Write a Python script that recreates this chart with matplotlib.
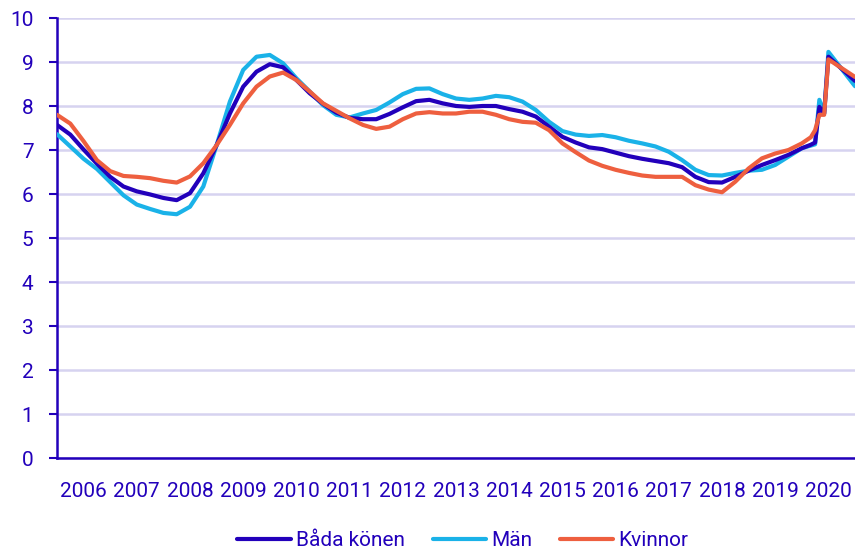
import matplotlib.pyplot as plt

plt.rcParams["font.family"] = ["Roboto", "DejaVu Sans"]

# decimal year positions (quarterly, monthly around the 2020 jump)
years = [2006.0, 2006.25, 2006.5, 2006.75, 2007.0, 2007.25, 2007.5, 2007.75,
         2008.0, 2008.25, 2008.5, 2008.75, 2009.0, 2009.25, 2009.5, 2009.75,
         2010.0, 2010.25, 2010.5, 2010.75, 2011.0, 2011.25, 2011.5, 2011.75,
         2012.0, 2012.25, 2012.5, 2012.75, 2013.0, 2013.25, 2013.5, 2013.75,
         2014.0, 2014.25, 2014.5, 2014.75, 2015.0, 2015.25, 2015.5, 2015.75,
         2016.0, 2016.25, 2016.5, 2016.75, 2017.0, 2017.25, 2017.5, 2017.75,
         2018.0, 2018.25, 2018.5, 2018.75, 2019.0, 2019.25, 2019.5, 2019.75,
         2020.0, 2020.17, 2020.25, 2020.33, 2020.42, 2020.5, 2021.0]

bada = [7.57, 7.35, 7.01, 6.69, 6.39, 6.17, 6.06, 5.99,
        5.91, 5.86, 6.02, 6.47, 7.11, 7.83, 8.44, 8.78,
        8.95, 8.88, 8.59, 8.29, 8.05, 7.85, 7.73, 7.70,
        7.70, 7.82, 7.97, 8.11, 8.14, 8.06, 8.00, 7.98,
        8.00, 8.00, 7.93, 7.87, 7.76, 7.53, 7.30, 7.17,
        7.06, 7.02, 6.94, 6.86, 6.80, 6.75, 6.70, 6.61,
        6.39, 6.27, 6.26, 6.39, 6.53, 6.66, 6.77, 6.89,
        7.04, 7.12, 7.17, 7.98, 7.83, 9.12, 8.57]

man = [7.36, 7.08, 6.80, 6.57, 6.27, 5.97, 5.76, 5.66,
       5.57, 5.54, 5.71, 6.17, 7.11, 8.10, 8.82, 9.12,
       9.16, 8.97, 8.63, 8.33, 8.02, 7.80, 7.74, 7.83,
       7.91, 8.08, 8.27, 8.39, 8.40, 8.27, 8.17, 8.14,
       8.17, 8.23, 8.20, 8.10, 7.91, 7.64, 7.43, 7.35,
       7.32, 7.34, 7.29, 7.21, 7.15, 7.08, 6.96, 6.77,
       6.55, 6.43, 6.42, 6.48, 6.53, 6.55, 6.66, 6.85,
       7.04, 7.10, 7.13, 8.14, 7.83, 9.23, 8.45]

kvinnor = [7.80, 7.60, 7.20, 6.77, 6.52, 6.41, 6.39, 6.36,
           6.30, 6.26, 6.40, 6.70, 7.11, 7.57, 8.06, 8.44,
           8.67, 8.76, 8.59, 8.33, 8.06, 7.89, 7.72, 7.57,
           7.48, 7.53, 7.70, 7.83, 7.86, 7.83, 7.83, 7.87,
           7.87, 7.80, 7.70, 7.64, 7.62, 7.45, 7.15, 6.95,
           6.76, 6.64, 6.55, 6.48, 6.42, 6.39, 6.39, 6.39,
           6.20, 6.10, 6.04, 6.28, 6.58, 6.81, 6.92, 7.00,
           7.15, 7.29, 7.45, 7.80, 7.80, 9.06, 8.66]

year_labels = [str(y) for y in range(2006, 2021)]

dark = "#2200bb"
cyan = "#1ab2e8"
red = "#ee5f3f"

fig = plt.figure(figsize=(8.55, 5.52), dpi=100)
ax = fig.add_axes([57 / 855, 1 - 458 / 552, 1 - 57 / 855, (458 - 18) / 552])

style = dict(lw=3, solid_joinstyle="round", solid_capstyle="round")
ax.plot(years, bada, color=dark, label="Båda könen", zorder=4, **style)
ax.plot(years, man, color=cyan, label="Män", zorder=3, **style)
ax.plot(years, kvinnor, color=red, label="Kvinnor", zorder=5, **style)

ax.set_xlim(2006, 2021)
ax.set_ylim(0, 10)
ax.set_yticks(range(0, 11))
ax.set_xticks([int(y) + 0.5 for y in year_labels])
ax.set_xticklabels(year_labels)

ax.grid(axis="y", color="#d6d3f0", lw=1.8, zorder=0)
ax.set_axisbelow(True)
for s in ["top", "right"]:
    ax.spines[s].set_visible(False)
ax.spines["left"].set_color(dark)
ax.spines["bottom"].set_color(dark)
ax.spines["left"].set_linewidth(1.8)
ax.spines["bottom"].set_linewidth(1.8)
ax.spines["bottom"].set_zorder(6)

ax.tick_params(axis="y", colors=dark, labelsize=15, length=6, width=1.5, pad=11)
ax.tick_params(axis="x", colors=dark, labelsize=15, length=0, pad=17)

fig.legend(loc="center", bbox_to_anchor=(463 / 855, 1 - 541 / 552), ncol=3,
           frameon=False, fontsize=15, handlelength=2.55, handletextpad=0.25,
           columnspacing=1.35, labelcolor=dark)

fig.savefig("out.png", dpi=100)
